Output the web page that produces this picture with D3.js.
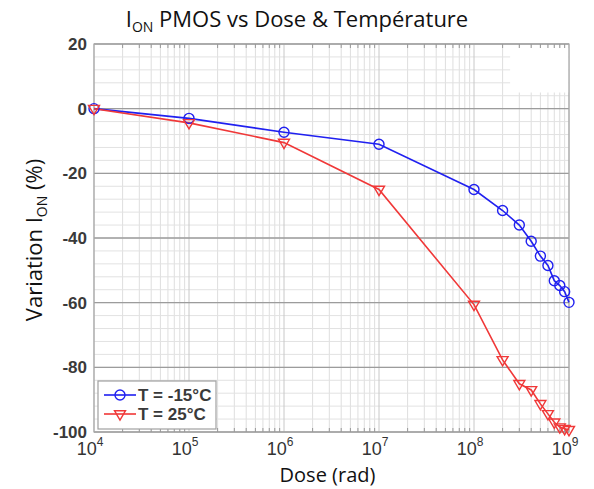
<!DOCTYPE html>
<html>
<head>
<meta charset="utf-8">
<script src="https://cdn.jsdelivr.net/npm/d3@7"></script>
<style>
  body { margin: 0; background: #fff; }
  svg { display: block; }
</style>
</head>
<body>
<div id="chart"></div>
<script>
// Data
var dose = [1e4, 1e5, 1e6, 1e7, 1e8, 2e8, 3e8, 4e8, 5e8, 6e8, 7e8, 8e8, 9e8, 1e9];
var cold = [0, -3, -7.3, -11, -25, -31.5, -36, -41, -45.6, -48.5, -53.2, -54.7, -56.6, -59.9];
var hot = [0, -4.4, -10.5, -25, -60.6, -77.7, -85.1, -87, -91.3, -94.4, -97, -98.5, -99, -99.3];
var seriesNames = ["T = -15°C", "T = 25°C"];
var yTicks = [20, 0, -20, -40, -60, -80, -100];
var xTicks = [1e4, 1e5, 1e6, 1e7, 1e8, 1e9];

var W = 594, H = 489;
var margin = {top: 44, right: 25, bottom: 57, left: 94};
var width = W - margin.left - margin.right;
var height = H - margin.top - margin.bottom;

var svg = d3.select("#chart").append("svg")
  .attr("width", W).attr("height", H);

var g = svg.append("g")
  .attr("transform", "translate(" + margin.left + "," + margin.top + ")");

var x = d3.scaleLog().domain([1e4, 1e9]).range([0, width]);
var y = d3.scaleLinear().domain([-100, 20]).range([height, 0]);

// minor grid
var minorX = [];
for (var e = 4; e < 9; e++) {
  for (var k = 2; k <= 9; k++) minorX.push(k * Math.pow(10, e));
}
var minorY = d3.range(-100, 21, 4);

g.selectAll(".mx").data(minorX).enter().append("line")
  .attr("x1", d => x(d)).attr("x2", d => x(d))
  .attr("y1", 0).attr("y2", height)
  .attr("stroke", "#dedede").attr("stroke-width", 1);
g.selectAll(".my").data(minorY).enter().append("line")
  .attr("x1", 0).attr("x2", width)
  .attr("y1", d => y(d)).attr("y2", d => y(d))
  .attr("stroke", "#e2e2e2").attr("stroke-width", 1);

// major grid
g.selectAll(".gx").data(xTicks).enter().append("line")
  .attr("x1", d => x(d)).attr("x2", d => x(d))
  .attr("y1", 0).attr("y2", height)
  .attr("stroke", "#c8c8c8").attr("stroke-width", 1);
g.selectAll(".gy").data(yTicks).enter().append("line")
  .attr("x1", 0).attr("x2", width)
  .attr("y1", d => y(d)).attr("y2", d => y(d))
  .attr("stroke", "#9c9c9c").attr("stroke-width", 1.3);

// white patch top right (as in source image)
g.append("rect")
  .attr("x", x(2.4e8)).attr("y", 4)
  .attr("width", x(9.9e8) - x(2.4e8)).attr("height", y(5) - 4)
  .attr("fill", "#fff");

// frame
g.append("rect")
  .attr("width", width).attr("height", height)
  .attr("fill", "none").attr("stroke", "#a8a8a8").attr("stroke-width", 1.2);

// small inward ticks along the bottom and top
g.selectAll(".tb").data(minorX).enter().append("line")
  .attr("x1", d => x(d)).attr("x2", d => x(d))
  .attr("y1", height).attr("y2", height - 4)
  .attr("stroke", "#999");
g.selectAll(".tt").data(minorX).enter().append("line")
  .attr("x1", d => x(d)).attr("x2", d => x(d))
  .attr("y1", 0).attr("y2", 4)
  .attr("stroke", "#999");

// y tick labels
g.selectAll(".yl").data(yTicks).enter().append("text")
  .attr("x", -7).attr("y", d => y(d) + 6)
  .attr("text-anchor", "end")
  .style("font-family", "Liberation Sans, Arial, sans-serif")
  .style("font-size", "17px").style("font-weight", "bold")
  .attr("fill", "#3a3a3a")
  .text(d => d);

// x tick labels (10^n)
var xl = g.selectAll(".xl").data(xTicks).enter().append("text")
  .attr("x", d => x(d) - 4).attr("y", height + 23)
  .attr("text-anchor", "middle")
  .style("font-family", "Liberation Sans, Arial, sans-serif")
  .style("font-size", "18px")
  .attr("fill", "#333");
xl.append("tspan").text("10");
xl.append("tspan").attr("dy", -9).style("font-size", "12px")
  .text(d => Math.round(Math.log10(d)));

// lines
var line = d3.line().x((d, i) => x(dose[i])).y(d => y(d));
var colors = ["#2020f0", "#f03838"];
var series = [cold, hot];

series.forEach(function(s, si) {
  g.append("path").datum(s)
    .attr("d", line)
    .attr("fill", "none")
    .attr("stroke", colors[si]).attr("stroke-width", 1.6);
});

// markers
function tri(cx, cy, r) {
  return "M" + (cx - r) + "," + (cy - r * 0.6) + "L" + (cx + r) + "," + (cy - r * 0.6) +
    "L" + cx + "," + (cy + r * 1.1) + "Z";
}
g.selectAll(".mc").data(cold).enter().append("circle")
  .attr("cx", (d, i) => x(dose[i])).attr("cy", d => y(d))
  .attr("r", 5).attr("fill", "none")
  .attr("stroke", colors[0]).attr("stroke-width", 1.4);
g.selectAll(".mt").data(hot).enter().append("path")
  .attr("d", (d, i) => tri(x(dose[i]), y(d), 5.5))
  .attr("fill", "none")
  .attr("stroke", colors[1]).attr("stroke-width", 1.4);

// legend
var lg = g.append("g").attr("transform", "translate(4," + (height - 51) + ")");
lg.append("rect").attr("width", 118).attr("height", 48)
  .attr("fill", "#fff").attr("stroke", "#a0a0a0").attr("stroke-width", 1.2);
seriesNames.forEach(function(name, i) {
  var ly = 14 + i * 19;
  lg.append("line").attr("x1", 6).attr("x2", 38).attr("y1", ly).attr("y2", ly)
    .attr("stroke", colors[i]).attr("stroke-width", 1.6);
  if (i === 0) {
    lg.append("circle").attr("cx", 22).attr("cy", ly).attr("r", 5)
      .attr("fill", "none").attr("stroke", colors[i]).attr("stroke-width", 1.4);
  } else {
    lg.append("path").attr("d", tri(22, ly, 5.5))
      .attr("fill", "none").attr("stroke", colors[i]).attr("stroke-width", 1.4);
  }
  lg.append("text").attr("x", 40).attr("y", ly + 6)
    .style("font-family", "Liberation Sans, Arial, sans-serif")
    .style("font-size", "17px").style("font-weight", "bold")
    .attr("fill", "#3a3a3a")
    .text(name);
});

// title
var t = svg.append("text")
  .attr("x", 297).attr("y", 27)
  .attr("text-anchor", "middle")
  .style("font-family", "Open Sans, sans-serif")
  .style("font-size", "22px")
  .attr("fill", "#111");
t.append("tspan").text("I");
t.append("tspan").attr("dy", 5).style("font-size", "14px").text("ON");
t.append("tspan").attr("dy", -5).text(" PMOS vs Dose & Température");

// axis titles
svg.append("text")
  .attr("x", margin.left + width / 2 - 4).attr("y", 482)
  .attr("text-anchor", "middle")
  .style("font-family", "Open Sans, sans-serif")
  .style("font-size", "20px")
  .attr("fill", "#111")
  .text("Dose (rad)");

var yl = svg.append("text")
  .attr("transform", "translate(42," + 240 + ") rotate(-90)")
  .attr("text-anchor", "middle")
  .style("font-family", "Open Sans, sans-serif")
  .style("font-size", "22px")
  .attr("fill", "#111");
yl.append("tspan").text("Variation I");
yl.append("tspan").attr("dy", 5).style("font-size", "14px").text("ON");
yl.append("tspan").attr("dy", -5).text(" (%)");
</script>
</body>
</html>
